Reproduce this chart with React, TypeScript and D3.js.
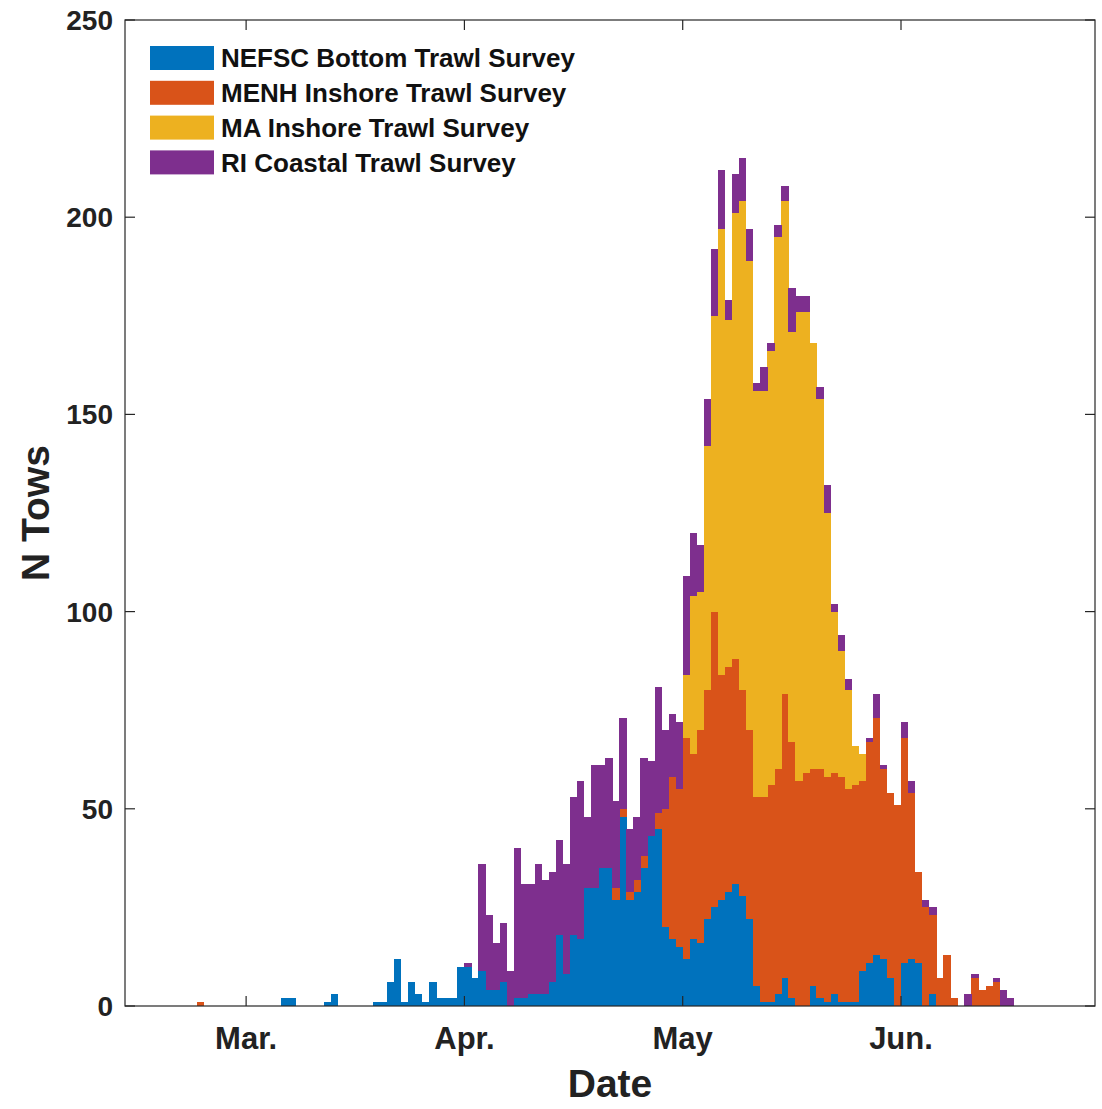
import React from 'react';
import * as d3 from 'd3';

// Day offsets are counted from the "May" tick (0); first bin is at day -69
const firstDay = -69;

const nefsc = [
  0, 0, 0, 0, 0, 0, 0, 0, 0, 0, 0, 0,
  2, 2, 0, 0, 0, 0, 1, 3,
  0, 0, 0, 0, 0,
  1, 1, 6, 12, 1, 6, 3, 1, 6, 2, 2, 2, 10, 10, 7,
  9, 4, 4, 6, 0, 2, 2, 3, 3, 3, 6, 18, 8, 18, 17, 30, 30, 35, 35, 27, 48, 27, 29, 35, 43, 45, 20, 17, 15,
  12, 17, 16, 22, 25, 27, 29, 31, 28, 22, 5, 1, 1, 3, 7, 2, 0, 0, 5, 2, 1, 3, 1, 1, 1, 9, 11, 13, 12, 7,
  0, 11, 12, 11, 0, 3, 0, 0, 0, 0, 0, 0, 0, 0, 0, 0, 0,
];

const menh = [
  1,
  0, 0, 0, 0, 0, 0, 0, 0, 0, 0,
  0, 0, 0, 0, 0, 0, 0, 0, 0, 0,
  0, 0, 0, 0, 0, 0, 0, 0, 0, 0,
  0, 0, 0, 0, 0, 0, 0, 0, 0, 0,
  0, 0, 0, 0, 0, 0, 0, 0, 0, 0,
  0, 0, 0, 0, 0, 0, 0, 0,
  3, 2, 2, 3, 3, 0, 4, 30, 41, 40,
  56, 47, 54, 58, 75, 57, 57, 57, 52, 48, 48, 52, 55, 57, 72, 65, 57, 59, 55, 58,
  57, 56, 57, 54, 55, 48, 56, 60, 48, 47, 51, 57, 42, 23, 25, 20, 7, 13, 2, 0,
  0, 7, 4, 5, 6, 0, 0,
];

const maInshore = [
  0, 0, 0, 0, 0, 0, 0, 0, 0, 0,
  0, 0, 0, 0, 0, 0, 0, 0, 0, 0,
  0, 0, 0, 0, 0, 0, 0, 0, 0, 0,
  0, 0, 0, 0, 0, 0, 0, 0, 0, 0,
  0, 0, 0, 0, 0, 0, 0, 0, 0, 0,
  0, 0, 0, 0, 0, 0, 0, 0, 0, 0,
  0, 0, 0, 0, 0, 0, 0, 0, 0,
  16, 40, 35, 62, 75, 113, 88, 113, 124, 119, 103, 103, 110, 135, 125, 104, 119, 117, 108, 94,
  67, 41, 32, 25, 10, 7, 0, 0, 0, 0, 0, 0, 0, 0, 0, 0, 0, 0, 0, 0,
  0, 0, 0, 0, 0, 0, 0,
];

const riCoastal = [
  0, 0, 0, 0, 0, 0, 0, 0, 0, 0,
  0, 0, 0, 0, 0, 0, 0, 0, 0, 0,
  0, 0, 0, 0, 0, 0, 0, 0, 0, 0,
  0, 0, 0, 0, 0, 0, 0, 0,
  1, 0,
  27, 19, 12, 15, 9, 38, 29, 28, 33, 29, 28, 24, 28, 35, 40, 18, 31, 26, 28, 22, 23, 16, 16, 25, 19, 32, 20, 16, 17,
  25, 16, 12, 12, 17, 15, 5, 10, 11, 8, 2, 6, 2, 3, 4, 11, 4, 4, 0, 3,
  7, 2, 4, 3, 0, 0, 1, 6, 1, 0, 0, 4, 3, 0, 2, 2, 0, 0, 0, 0,
  3, 1, 0, 0, 1, 4, 2,
];

const seriesKeys = ['nefsc', 'menh', 'ma', 'ri'];
const seriesNames = [
  'NEFSC Bottom Trawl Survey',
  'MENH Inshore Trawl Survey',
  'MA Inshore Trawl Survey',
  'RI Coastal Trawl Survey',
];
const seriesColors = ['#0072BD', '#D95319', '#EDB120', '#7E2F8E'];

const monthTicks = [-62, -31, 0, 31];
const monthLabels = ['Mar.', 'Apr.', 'May', 'Jun.'];
const yTicks = [0, 50, 100, 150, 200, 250];

const W = 1102;
const H = 1109;
const plot = { left: 125, right: 1095, top: 20, bottom: 1006 };
const FONT = "'Liberation Sans', Arial, Helvetica, sans-serif";

export default function App() {
  const days = d3.range(firstDay, firstDay + nefsc.length);
  const table = days.map((d, i) => ({
    day: d,
    nefsc: nefsc[i] || 0,
    menh: menh[i] || 0,
    ma: maInshore[i] || 0,
    ri: riCoastal[i] || 0,
  }));
  const stacked = d3.stack<any>().keys(seriesKeys)(table);

  const x = d3
    .scaleLinear()
    .domain([-79.2, 58.55])
    .range([plot.left, plot.right]);
  const y = d3.scaleLinear().domain([0, 250]).range([plot.bottom, plot.top]);

  const tickLen = 10;
  const axisColor = '#262626';

  return (
    <svg
      width={W}
      height={H}
      viewBox={`0 0 ${W} ${H}`}
      style={{ position: 'absolute', left: 0, top: 0, background: '#fff' }}
      fontFamily={FONT}
    >
      <rect x={0} y={0} width={W} height={H} fill="#fff" />
      {/* bars */}
      <g shapeRendering="crispEdges">
        {stacked.map((layer, li) => (
          <g key={layer.key} fill={seriesColors[li]}>
            {layer.map((seg: any, i: number) => {
              const v = seg[1] - seg[0];
              if (v <= 0) return null;
              const d = seg.data.day;
              const x0 = x(d);
              const x1 = x(d + 1);
              return (
                <rect
                  key={i}
                  x={x0}
                  width={x1 - x0 + 0.3}
                  y={y(seg[1])}
                  height={y(seg[0]) - y(seg[1])}
                />
              );
            })}
          </g>
        ))}
      </g>

      {/* axes box */}
      <rect
        x={plot.left}
        y={plot.top}
        width={plot.right - plot.left}
        height={plot.bottom - plot.top}
        fill="none"
        stroke={axisColor}
        strokeWidth={1.2}
      />
      {/* y ticks */}
      {yTicks.map((t) => (
        <g key={'y' + t}>
          <line x1={plot.left} x2={plot.left + tickLen} y1={y(t)} y2={y(t)} stroke={axisColor} strokeWidth={1.2} />
          <line x1={plot.right - tickLen} x2={plot.right} y1={y(t)} y2={y(t)} stroke={axisColor} strokeWidth={1.2} />
          <text
            x={plot.left - 12}
            y={y(t)}
            dy="0.36em"
            textAnchor="end"
            fontSize={28}
            fontWeight="bold"
            fill="#222"
          >
            {t}
          </text>
        </g>
      ))}
      {/* x ticks */}
      {monthTicks.map((t, i) => (
        <g key={'x' + t}>
          <line x1={x(t)} x2={x(t)} y1={plot.bottom} y2={plot.bottom - tickLen} stroke={axisColor} strokeWidth={1.2} />
          <line x1={x(t)} x2={x(t)} y1={plot.top} y2={plot.top + tickLen} stroke={axisColor} strokeWidth={1.2} />
          <text
            x={x(t)}
            y={plot.bottom + 43}
            textAnchor="middle"
            fontSize={31}
            fontWeight="bold"
            fill="#222"
          >
            {monthLabels[i]}
          </text>
        </g>
      ))}

      {/* axis titles */}
      <text
        x={(plot.left + plot.right) / 2}
        y={1097}
        textAnchor="middle"
        fontSize={39}
        fontWeight="bold"
        fill="#222"
      >
        Date
      </text>
      <text
        transform={`translate(49, ${(plot.top + plot.bottom) / 2}) rotate(-90)`}
        textAnchor="middle"
        fontSize={39}
        fontWeight="bold"
        fill="#222"
      >
        N Tows
      </text>

      {/* legend */}
      {seriesNames.map((name, i) => {
        const cy = 58 + i * 34.8;
        return (
          <g key={name}>
            <rect x={150} y={cy - 12} width={64} height={24} fill={seriesColors[i]} />
            <text x={221} y={cy} dy="0.35em" fontSize={26} fontWeight="bold" fill="#111">
              {name}
            </text>
          </g>
        );
      })}
    </svg>
  );
}
